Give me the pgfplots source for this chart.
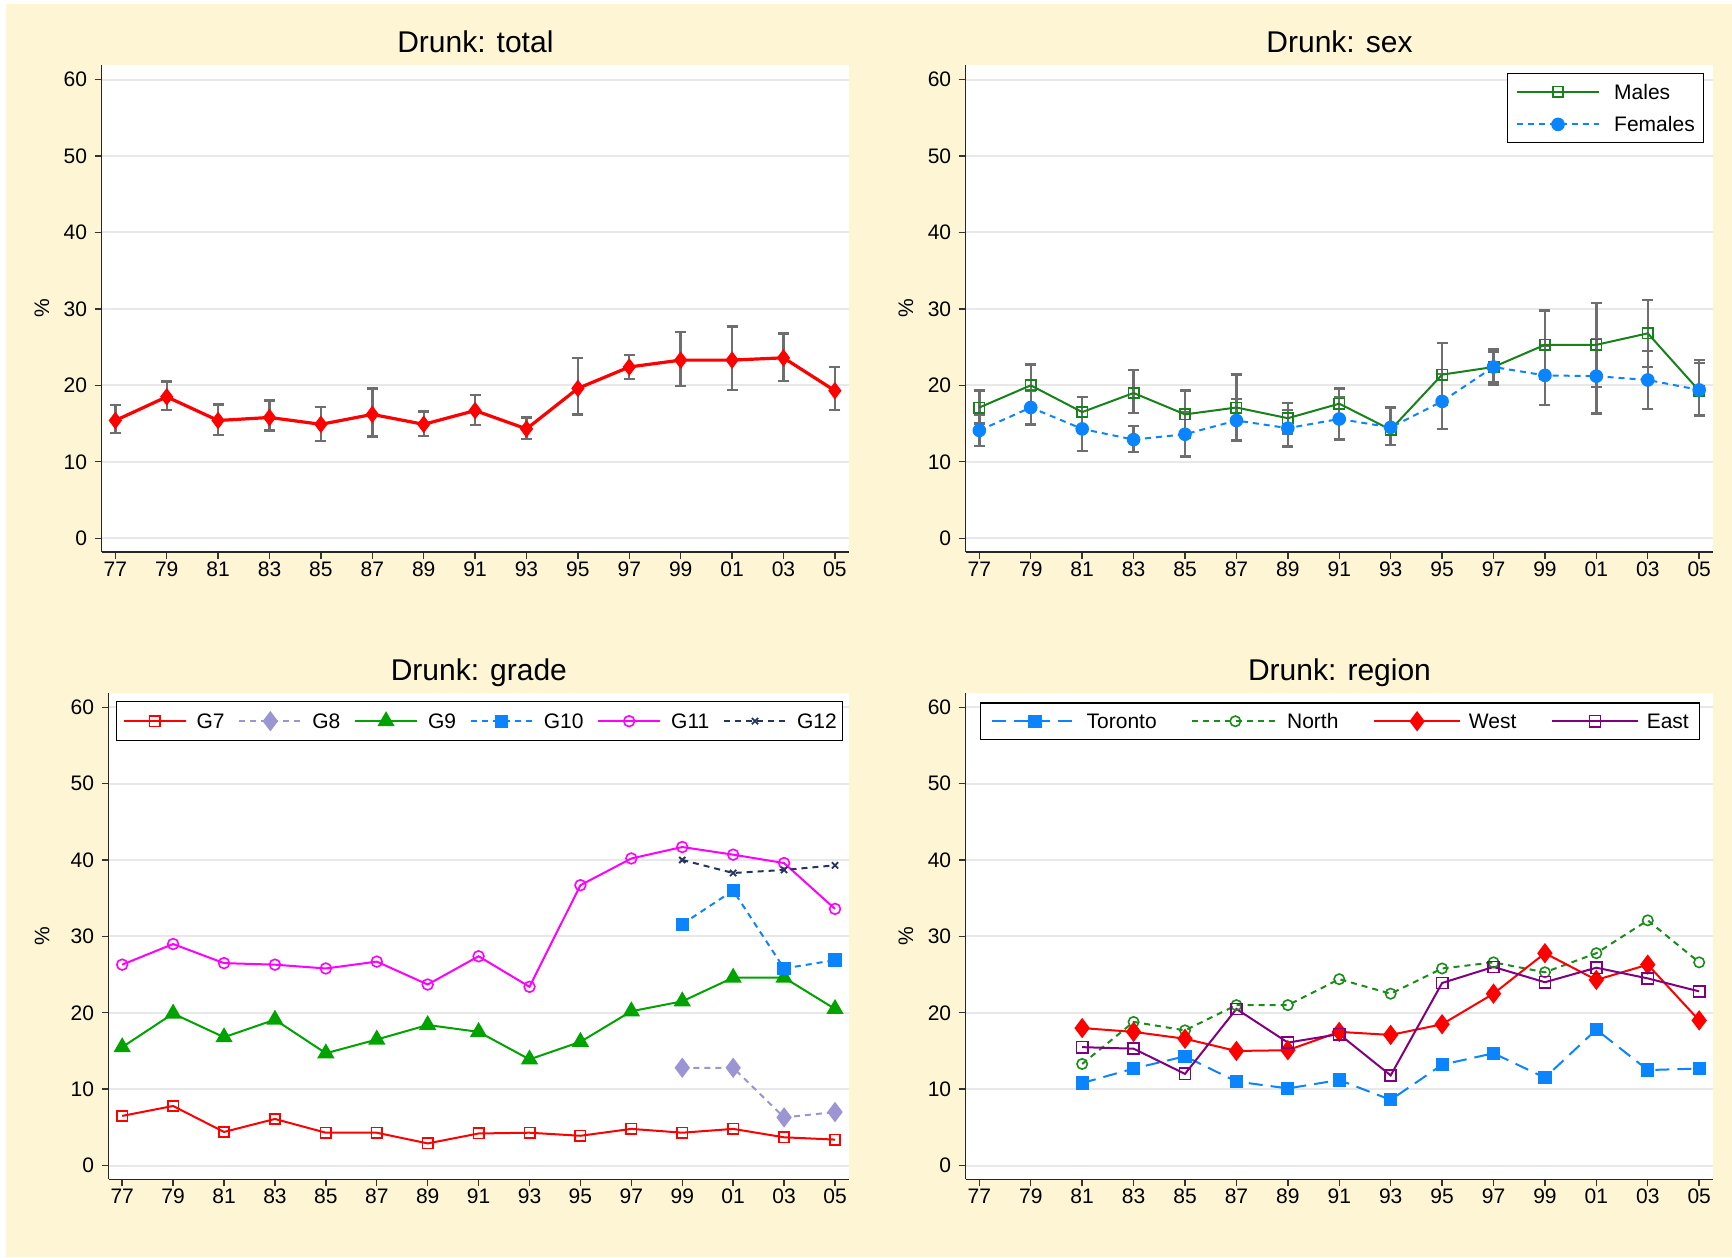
\documentclass[border=0pt]{standalone}
\usepackage{pgfplots}
\pgfplotsset{compat=1.18}
\usepackage{fontspec}
\setmainfont{Liberation Sans}
\definecolor{bgyellow}{HTML}{FDF5D3}
\definecolor{gridgray}{HTML}{E8E8E8}
\definecolor{errgray}{HTML}{6E6E6E}
\definecolor{sred}{HTML}{FF0000}
\definecolor{mgreen}{HTML}{17821A}
\definecolor{fblue}{HTML}{0A84FF}
\definecolor{lav}{HTML}{9B95D4}
\definecolor{g9green}{HTML}{00A300}
\definecolor{magent}{HTML}{FF00FF}
\definecolor{navy}{HTML}{23365E}
\definecolor{ngreen}{HTML}{1A8C1A}
\definecolor{epurple}{HTML}{800080}
\pgfplotsset{
  panel/.style={
    scale only axis, anchor=north west,
    xmin=1976.47, xmax=2005.55, ymin=-1.8, ymax=61.9,
    axis lines*=left,
    axis line style={draw=black!85, line width=0.7pt},
    axis background/.style={fill=white},
    ytick={0,10,...,60},
    xtick={1977,1979,...,2005},
    xticklabels={77,79,81,83,85,87,89,91,93,95,97,99,01,03,05},
    ymajorgrids, grid style={draw=gridgray, line width=1pt},
    tick align=outside, major tick length=3.5pt,
    tick style={draw=black!80, line width=0.7pt},
    /pgf/number format/assume math mode=true,
    every tick label/.append style={font=\fontsize{10.5}{12}\selectfont},
    yticklabel style={anchor=east, inner sep=0pt, xshift=-3.6pt},
    xticklabel style={anchor=north, inner sep=0pt, yshift=-1.3pt},
    title style={font=\fontsize{15}{18}\selectfont, at={(axis description cs:0.5,1)}, anchor=base, yshift=0pt},
    ylabel={\%},
    every axis y label/.style={at={(axis description cs:-0.08,0.5)}, rotate=90, anchor=center, font=\fontsize{10.5}{12}\selectfont},
  },
  errs/.style={forget plot, mark=none, draw=none,
    error bars/.cd, y dir=both, y explicit,
    error bar style={draw=errgray, line width=1.2pt},
    error mark options={rotate=90, draw=errgray, mark size=2.75pt, line width=1.2pt}},
}
\begin{document}
\begin{tikzpicture}
\path[use as bounding box] (0pt,0pt) rectangle (866pt,-628.5pt);
\fill[white] (0pt,0pt) rectangle (866pt,-628.5pt);
\fill[bgyellow] (3pt,-2pt) rectangle (866pt,-628.5pt);

% ---------------- Panel 1 ----------------
\begin{axis}[panel, at={(50.85pt,-32.5pt)}, width=373.65pt, height=243.5pt,
  title={Drunk: total}]
\addplot[errs] coordinates {
 (1977,15.4) += (0,2.0) -= (0,1.6)
 (1979,18.5) += (0,2.0) -= (0,1.7)
 (1981,15.4) += (0,2.1) -= (0,1.9)
 (1983,15.8) += (0,2.2) -= (0,1.7)
 (1985,14.9) += (0,2.3) -= (0,2.2)
 (1987,16.2) += (0,3.4) -= (0,2.9)
 (1989,14.9) += (0,1.7) -= (0,1.5)
 (1991,16.7) += (0,2.0) -= (0,1.9)
 (1993,14.3) += (0,1.5) -= (0,1.3)
 (1995,19.6) += (0,4.0) -= (0,3.4)
 (1997,22.4) += (0,1.6) -= (0,1.6)
 (1999,23.3) += (0,3.7) -= (0,3.4)
 (2001,23.3) += (0,4.4) -= (0,3.9)
 (2003,23.6) += (0,3.2) -= (0,3.0)
 (2005,19.3) += (0,3.1) -= (0,2.5)
};
\addplot[sred, line width=1.6pt, mark=diamond*, mark size=4pt, mark options={fill=sred, draw=sred, line width=0.5pt}] coordinates {
 (1977,15.4) (1979,18.5) (1981,15.4) (1983,15.8) (1985,14.9) (1987,16.2) (1989,14.9)
 (1991,16.7) (1993,14.3) (1995,19.6) (1997,22.4) (1999,23.3) (2001,23.3) (2003,23.6) (2005,19.3)
};
\end{axis}

% ---------------- Panel 2 ----------------
\begin{axis}[panel, at={(482.85pt,-32.5pt)}, width=373.8pt, height=243.5pt,
  title={Drunk: sex},
  legend cell align=left,
  legend image code/.code={\draw[mark repeat=2,mark phase=2,#1] plot coordinates {(0pt,0pt) (20.4pt,0pt) (40.8pt,0pt)};},
  legend style={at={(0.988,0.984)}, anchor=north east, draw=black, line width=0.6pt, fill=white,
    inner xsep=4.5pt, inner ysep=5.3pt,
    nodes={inner sep=0pt, text height=7.6pt, text depth=0pt, font=\fontsize{10.5}{12}\selectfont},
    row sep=8.8pt,
    /tikz/every odd column/.append style={column sep=7.2pt}}]
\addplot[errs] coordinates {
 (1977,17.1) += (0,2.2) -= (0,2.1)
 (1979,20.0) += (0,2.7) -= (0,2.6)
 (1981,16.5) += (0,2.0) -= (0,2.0)
 (1983,19.0) += (0,3.0) -= (0,2.6)
 (1985,16.2) += (0,3.1) -= (0,3.0)
 (1987,17.1) += (0,4.3) -= (0,4.3)
 (1989,15.7) += (0,2.0) -= (0,2.0)
 (1991,17.6) += (0,2.0) -= (0,2.0)
 (1993,14.2) += (0,2.9) -= (0,2.0)
 (1995,21.4) += (0,4.1) -= (0,4.0)
 (1997,22.4) += (0,2.3) -= (0,2.3)
 (1999,25.3) += (0,4.5) -= (0,4.5)
 (2001,25.3) += (0,5.5) -= (0,5.5)
 (2003,26.8) += (0,4.4) -= (0,4.4)
 (2005,19.3) += (0,4.0) -= (0,3.3)
};
\addplot[errs] coordinates {
 (1977,14.1) += (0,2.0) -= (0,2.0)
 (1979,17.1) += (0,2.2) -= (0,2.2)
 (1981,14.3) += (0,2.9) -= (0,2.9)
 (1983,12.9) += (0,1.8) -= (0,1.6)
 (1985,13.6) += (0,2.9) -= (0,2.9)
 (1987,15.4) += (0,2.8) -= (0,2.6)
 (1989,14.4) += (0,2.4) -= (0,2.4)
 (1991,15.6) += (0,2.8) -= (0,2.7)
 (1993,14.5) += (0,2.6) -= (0,2.3)
 (1995,17.9) += (0,3.6) -= (0,3.6)
 (1997,22.4) += (0,2.0) -= (0,2.0)
 (1999,21.3) += (0,3.9) -= (0,3.9)
 (2001,21.2) += (0,4.9) -= (0,4.9)
 (2003,20.7) += (0,3.8) -= (0,3.8)
 (2005,19.4) += (0,3.5) -= (0,3.3)
};
\addplot[mgreen, line width=1pt, mark=square, mark size=2.6pt, mark options={solid, draw=mgreen, fill=white, line width=0.8pt}] coordinates {
 (1977,17.1) (1979,20.0) (1981,16.5) (1983,19.0) (1985,16.2) (1987,17.1) (1989,15.7)
 (1991,17.6) (1993,14.2) (1995,21.4) (1997,22.4) (1999,25.3) (2001,25.3) (2003,26.8) (2005,19.3)
};
\addlegendentry{Males}
\addplot[fblue, line width=1pt, dash pattern=on 3pt off 2.5pt, mark=*, mark size=2.9pt, mark options={solid, fill=fblue, draw=fblue}] coordinates {
 (1977,14.1) (1979,17.1) (1981,14.3) (1983,12.9) (1985,13.6) (1987,15.4) (1989,14.4)
 (1991,15.6) (1993,14.5) (1995,17.9) (1997,22.4) (1999,21.3) (2001,21.2) (2003,20.7) (2005,19.4)
};
\addlegendentry{Females}
\end{axis}

% ---------------- Panel 3 ----------------
\begin{axis}[panel, at={(54.35pt,-346.35pt)}, width=370.15pt, height=243.3pt,
  title={Drunk: grade},
  every axis y label/.style={at={(axis description cs:-0.09,0.5)}, rotate=90, anchor=center, font=\fontsize{10.5}{12}\selectfont},
  legend columns=6,
  legend image code/.code={\draw[mark repeat=2,mark phase=2,#1] plot coordinates {(0pt,0pt) (15.5pt,0pt) (31pt,0pt)};},
  legend style={at={(0.0099,0.983)}, anchor=north west, draw=black, line width=0.6pt, fill=white,
    inner xsep=3pt, inner ysep=5.5pt,
    nodes={inner sep=0pt, text height=7.6pt, text depth=0pt, font=\fontsize{10.5}{12}\selectfont},
    /tikz/every odd column/.append style={column sep=5pt},
    /tikz/every even column/.append style={column sep=6.85pt}}]
\addplot[sred, line width=1pt, mark=square, mark size=2.6pt, mark options={solid, draw=sred, line width=0.8pt}] coordinates {
 (1977,6.5) (1979,7.8) (1981,4.4) (1983,6.1) (1985,4.3) (1987,4.3) (1989,2.9)
 (1991,4.2) (1993,4.3) (1995,3.9) (1997,4.8) (1999,4.3) (2001,4.8) (2003,3.7) (2005,3.4)
};
\addlegendentry{G7}
\addplot[lav, line width=1pt, dash pattern=on 3pt off 2.5pt, mark=diamond*, mark size=4.3pt, mark options={solid, fill=lav, draw=lav}] coordinates {
 (1999,12.8) (2001,12.8) (2003,6.3) (2005,7.0)
};
\addlegendentry{G8}
\addplot[g9green, line width=1pt, mark=triangle*, mark size=4pt, mark options={solid, fill=g9green, draw=g9green}] coordinates {
 (1977,15.5) (1979,19.9) (1981,16.8) (1983,19.1) (1985,14.7) (1987,16.5) (1989,18.4)
 (1991,17.5) (1993,13.9) (1995,16.2) (1997,20.2) (1999,21.5) (2001,24.6) (2003,24.6) (2005,20.5)
};
\addlegendentry{G9}
\addplot[fblue, line width=1pt, dash pattern=on 3pt off 2.5pt, mark=square*, mark size=2.8pt, mark options={solid, fill=fblue, draw=fblue}] coordinates {
 (1999,31.6) (2001,36.0) (2003,25.8) (2005,26.9)
};
\addlegendentry{G10}
\addplot[magent, line width=1pt, mark=o, mark size=2.7pt, mark options={solid, draw=magent, line width=0.8pt}] coordinates {
 (1977,26.3) (1979,29.0) (1981,26.5) (1983,26.3) (1985,25.8) (1987,26.7) (1989,23.7)
 (1991,27.4) (1993,23.4) (1995,36.7) (1997,40.2) (1999,41.7) (2001,40.7) (2003,39.6) (2005,33.6)
};
\addlegendentry{G11}
\addplot[navy, line width=1pt, dash pattern=on 3pt off 2.5pt, mark=x, mark size=2.2pt, mark options={solid, draw=navy, line width=0.9pt}] coordinates {
 (1999,40.0) (2001,38.3) (2003,38.7) (2005,39.3)
};
\addlegendentry{G12}
\end{axis}

% ---------------- Panel 4 ----------------
\begin{axis}[panel, at={(482.85pt,-346.35pt)}, width=373.8pt, height=243.3pt,
  title={Drunk: region},
  legend columns=4,
  legend image code/.code={\draw[mark repeat=2,mark phase=2,#1] plot coordinates {(0pt,0pt) (21.5pt,0pt) (43pt,0pt)};},
  legend style={at={(0.0187,0.98)}, anchor=north west, draw=black, line width=0.6pt, fill=white,
    inner xsep=5.3pt, inner ysep=4.8pt,
    nodes={inner sep=0pt, text height=7.6pt, text depth=0pt, font=\fontsize{10.5}{12}\selectfont},
    /tikz/every odd column/.append style={column sep=3.9pt},
    /tikz/every even column/.append style={column sep=17.3pt}}]
\addplot[fblue, line width=1pt, dash pattern=on 7pt off 4pt, mark=square*, mark size=2.8pt, mark options={solid, fill=fblue, draw=fblue}] coordinates {
 (1981,10.8) (1983,12.7) (1985,14.3) (1987,11.0) (1989,10.1) (1991,11.2) (1993,8.6)
 (1995,13.2) (1997,14.7) (1999,11.5) (2001,17.8) (2003,12.5) (2005,12.7)
};
\addlegendentry{Toronto}
\addplot[ngreen, line width=1pt, dash pattern=on 3pt off 2.5pt, mark=o, mark size=2.6pt, mark options={solid, draw=ngreen, line width=0.8pt}] coordinates {
 (1981,13.3) (1983,18.8) (1985,17.7) (1987,21.0) (1989,21.0) (1991,24.4) (1993,22.5)
 (1995,25.8) (1997,26.6) (1999,25.3) (2001,27.8) (2003,32.1) (2005,26.6)
};
\addlegendentry{North}
\addplot[sred, line width=1pt, mark=diamond*, mark size=4.3pt, mark options={solid, fill=sred, draw=sred}] coordinates {
 (1981,18.0) (1983,17.5) (1985,16.6) (1987,15.0) (1989,15.1) (1991,17.5) (1993,17.1)
 (1995,18.5) (1997,22.5) (1999,27.8) (2001,24.3) (2003,26.3) (2005,19.0)
};
\addlegendentry{West}
\addplot[epurple, line width=1pt, mark=square, mark size=2.8pt, mark options={solid, draw=epurple, line width=0.8pt}] coordinates {
 (1981,15.5) (1983,15.3) (1985,12.0) (1987,20.5) (1989,16.1) (1991,17.2) (1993,11.8)
 (1995,23.9) (1997,26.0) (1999,24.0) (2001,25.9) (2003,24.5) (2005,22.8)
};
\addlegendentry{East}
\end{axis}
\end{tikzpicture}
\end{document}
